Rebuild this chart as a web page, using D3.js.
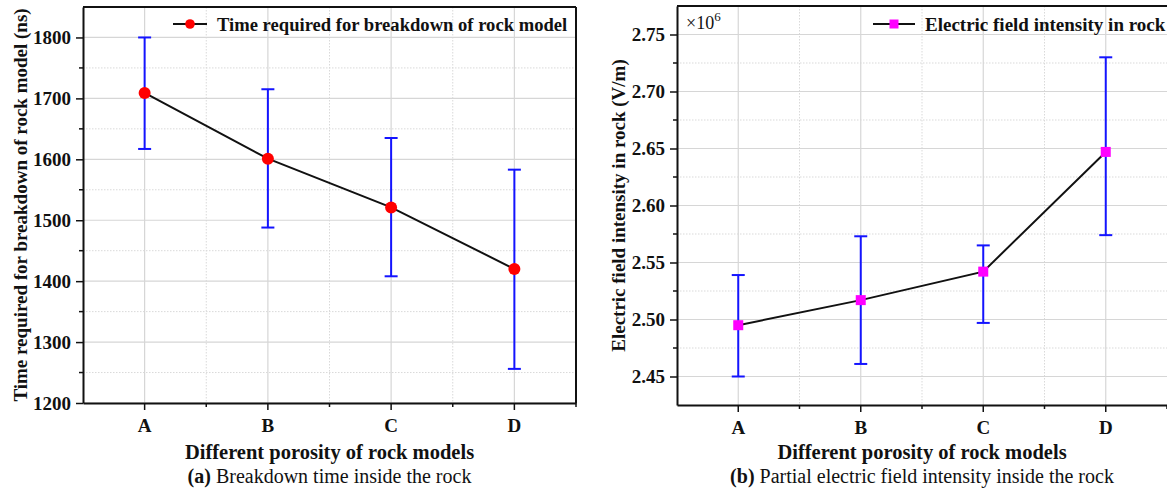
<!DOCTYPE html>
<html>
<head>
<meta charset="utf-8">
<script src="https://cdn.jsdelivr.net/npm/d3@7"></script>
<style>
  html, body { margin: 0; padding: 0; background: #fff; }
  svg { display: block; font-family: "Liberation Serif", "Times New Roman", serif; }
</style>
</head>
<body>
<svg id="chart" width="1167" height="495"></svg>
<script>
// ---- data ----
const categories = ["A", "B", "C", "D"];
// (a) breakdown time (ns)
const timeValues = [1709, 1601, 1521, 1420];
const timeErrHigh = [1800, 1715, 1635, 1583];
const timeErrLow = [1617, 1488, 1408, 1256];
const timeTicks = [1200, 1300, 1400, 1500, 1600, 1700, 1800];
// (b) electric field intensity (V/m)
const fieldValues = [2.495e6, 2.517e6, 2.542e6, 2.647e6];
const fieldErrHigh = [2.539e6, 2.573e6, 2.565e6, 2.730e6];
const fieldErrLow = [2.450e6, 2.461e6, 2.497e6, 2.574e6];
const fieldTicks = [2.45e6, 2.50e6, 2.55e6, 2.60e6, 2.65e6, 2.70e6, 2.75e6];

const svg = d3.select("#chart");

function panel(opts) {
  const g = svg.append("g");
  const x = d3.scaleBand().domain(categories).range([opts.left, opts.right]).paddingInner(0).paddingOuter(0);
  const xc = d => x(d) + x.bandwidth() / 2;
  const y = d3.scaleLinear().domain(opts.yDomain).range([opts.bottom, opts.top]);

  // minor positions
  const yMinor = [];
  for (let i = 0; i < opts.ticks.length; i++) {
    const v = opts.ticks[i] + opts.step / 2;
    if (v < opts.yDomain[1]) yMinor.push(v);
  }
  if (opts.ticks[0] - opts.step / 2 > opts.yDomain[0]) yMinor.unshift(opts.ticks[0] - opts.step / 2);
  const xMinor = categories.slice(1).map(c => x(c));

  // grid
  g.append("g").selectAll("line").data(yMinor).join("line")
    .attr("x1", opts.left).attr("x2", opts.right)
    .attr("y1", d => y(d)).attr("y2", d => y(d))
    .attr("stroke", "#d9d9d9").attr("stroke-width", 1).attr("stroke-dasharray", "1.5,1.5");
  g.append("g").selectAll("line").data(xMinor).join("line")
    .attr("y1", opts.top).attr("y2", opts.bottom)
    .attr("x1", d => d).attr("x2", d => d)
    .attr("stroke", "#d9d9d9").attr("stroke-width", 1).attr("stroke-dasharray", "1.5,1.5");
  g.append("g").selectAll("line").data(opts.ticks).join("line")
    .attr("x1", opts.left).attr("x2", opts.right)
    .attr("y1", d => y(d)).attr("y2", d => y(d))
    .attr("stroke", "#d6d6d6").attr("stroke-width", 1.2);
  g.append("g").selectAll("line").data(categories).join("line")
    .attr("y1", opts.top).attr("y2", opts.bottom)
    .attr("x1", d => xc(d)).attr("x2", d => xc(d))
    .attr("stroke", "#d6d6d6").attr("stroke-width", 1.2);

  // frame
  const frame = g.append("g").attr("fill", "none").attr("stroke", "#111").attr("stroke-width", 2);
  frame.append("line").attr("x1", opts.left).attr("x2", opts.right).attr("y1", opts.top).attr("y2", opts.top);
  if (opts.rightBorder) frame.append("line").attr("x1", opts.right).attr("x2", opts.right).attr("y1", opts.top).attr("y2", opts.bottom);

  // y axis
  const yAxis = d3.axisLeft(y).tickValues(opts.ticks).tickSize(7).tickSizeOuter(0).tickPadding(5).tickFormat(opts.fmt);
  const ya = g.append("g").attr("transform", `translate(${opts.left},0)`).call(yAxis);
  ya.select(".domain").attr("stroke", "#111").attr("stroke-width", 2);
  ya.selectAll(".tick line").attr("stroke", "#111").attr("stroke-width", 1.5);
  ya.selectAll(".tick text").attr("font-size", 19).attr("font-weight", "bold").attr("fill", "#111")
    .attr("font-family", "Liberation Serif");
  g.append("g").selectAll("line").data(yMinor).join("line")
    .attr("x1", opts.left - 4).attr("x2", opts.left)
    .attr("y1", d => y(d)).attr("y2", d => y(d))
    .attr("stroke", "#111").attr("stroke-width", 1.5);

  // x axis
  const xAxis = d3.axisBottom(x).tickSize(7).tickSizeOuter(0).tickPadding(9);
  const xa = g.append("g").attr("transform", `translate(0,${opts.bottom})`).call(xAxis);
  xa.select(".domain").attr("stroke", "#111").attr("stroke-width", 2);
  xa.selectAll(".tick line").attr("stroke", "#111").attr("stroke-width", 1.5);
  xa.selectAll(".tick text").attr("font-size", 19).attr("font-weight", "bold").attr("fill", "#111")
    .attr("font-family", "Liberation Serif");
  g.append("g").selectAll("line").data(xMinor.concat([opts.right])).join("line")
    .attr("x1", d => d).attr("x2", d => d)
    .attr("y1", opts.bottom).attr("y2", opts.bottom + 4)
    .attr("stroke", "#111").attr("stroke-width", 1.5);

  // error bars
  const eb = g.append("g").attr("stroke", "#1414ff").attr("stroke-width", 2);
  categories.forEach((c, i) => {
    const cx = xc(c);
    eb.append("line").attr("x1", cx).attr("x2", cx).attr("y1", y(opts.hi[i])).attr("y2", y(opts.lo[i]));
    eb.append("line").attr("x1", cx - 6.5).attr("x2", cx + 6.5).attr("y1", y(opts.hi[i])).attr("y2", y(opts.hi[i]));
    eb.append("line").attr("x1", cx - 6.5).attr("x2", cx + 6.5).attr("y1", y(opts.lo[i])).attr("y2", y(opts.lo[i]));
  });

  // line
  const line = d3.line().x((d, i) => xc(categories[i])).y(d => y(d));
  g.append("path").datum(opts.values).attr("d", line).attr("fill", "none")
    .attr("stroke", "#111").attr("stroke-width", 2);

  // markers
  if (opts.marker === "circle") {
    g.append("g").selectAll("circle").data(opts.values).join("circle")
      .attr("cx", (d, i) => xc(categories[i])).attr("cy", d => y(d)).attr("r", 6).attr("fill", "#ff0000");
  } else {
    g.append("g").selectAll("rect").data(opts.values).join("rect")
      .attr("x", (d, i) => xc(categories[i]) - 5).attr("y", d => y(d) - 5)
      .attr("width", 10).attr("height", 10).attr("fill", "#ff00ff");
  }

  // legend
  const lg = g.append("g");
  lg.append("line").attr("x1", opts.legX1).attr("x2", opts.legX2).attr("y1", 24).attr("y2", 24)
    .attr("stroke", "#111").attr("stroke-width", 2);
  const mx = (opts.legX1 + opts.legX2) / 2;
  if (opts.marker === "circle") {
    lg.append("circle").attr("cx", mx).attr("cy", 24).attr("r", 4.8).attr("fill", "#ff0000");
  } else {
    lg.append("rect").attr("x", mx - 4.5).attr("y", 19.5).attr("width", 9).attr("height", 9).attr("fill", "#ff00ff");
  }
  lg.append("text").attr("x", opts.legX2 + 10).attr("y", 31).attr("font-size", opts.legSize).attr("font-weight", "bold")
    .attr("fill", "#111").text(opts.legend);

  // y title
  g.append("text")
    .attr("transform", `translate(${opts.yTitleX},${(opts.top + opts.bottom) / 2}) rotate(-90)`)
    .attr("text-anchor", "middle").attr("font-size", 19).attr("font-weight", "bold").attr("fill", "#111")
    .text(opts.yTitle);

  // x title and caption
  const midX = (opts.left + opts.right) / 2;
  g.append("text").attr("x", midX).attr("y", 459).attr("text-anchor", "middle")
    .attr("font-size", 20.5).attr("font-weight", "bold").attr("fill", "#111").text("Different porosity of rock models");
  const cap = g.append("text").attr("x", midX).attr("y", 483).attr("text-anchor", "middle")
    .attr("font-size", 20).attr("fill", "#111");
  cap.append("tspan").attr("font-weight", "bold").text(opts.capLabel);
  cap.append("tspan").text(" " + opts.caption);
  return g;
}

panel({
  left: 83, right: 576, top: 7, bottom: 403,
  yDomain: [1200, 1850], ticks: timeTicks, step: 100, fmt: d3.format("d"),
  values: timeValues, hi: timeErrHigh, lo: timeErrLow, marker: "circle",
  legX1: 173, legX2: 207, legend: "Time required for breakdown of rock model", legSize: 18.6,
  yTitle: "Time required for breakdown of rock model (ns)", yTitleX: 27,
  capLabel: "(a)", caption: "Breakdown time inside the rock", rightBorder: true
});

const pb = panel({
  left: 677, right: 1167, top: 6, bottom: 405,
  yDomain: [2.425e6, 2.775e6], ticks: fieldTicks, step: 0.05e6, fmt: d => (d / 1e6).toFixed(2),
  values: fieldValues, hi: fieldErrHigh, lo: fieldErrLow, marker: "square",
  legX1: 873, legX2: 915, legend: "Electric field intensity in rock", legSize: 19,
  yTitle: "Electric field intensity in rock (V/m)", yTitleX: 625,
  capLabel: "(b)", caption: "Partial electric field intensity inside the rock", rightBorder: false
});
const mult = pb.append("text").attr("x", 686).attr("y", 29).attr("font-size", 18).attr("fill", "#111");
mult.append("tspan").text("×10");
mult.append("tspan").attr("dy", -8).attr("font-size", 13).text("6");
</script>
</body>
</html>
